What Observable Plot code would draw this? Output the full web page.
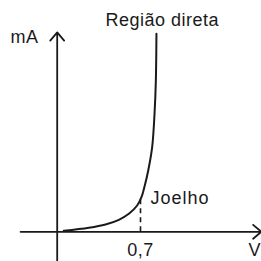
<!DOCTYPE html>
<html>
<head>
<meta charset="utf-8">
<script src="https://cdn.jsdelivr.net/npm/d3@7"></script>
<script src="https://cdn.jsdelivr.net/npm/@observablehq/plot@0.6"></script>
<style>
  html, body { margin: 0; padding: 0; background: #fff; }
  svg { display: block; }
</style>
</head>
<body>
<div id="chart"></div>
<script>
// Diode forward curve: voltage (V) and current (mA)
const voltage = [0.055, 0.266, 0.406, 0.518, 0.602, 0.672, 0.708, 0.736, 0.765, 0.798, 0.818, 0.829, 0.834];
const current = [0.1, 0.4, 0.73, 1.2, 1.8, 2.63, 3.46, 4.63, 6.13, 8.46, 11.83, 15.13, 19.8];

// Knee
const kneeV = 0.7;
const kneeI = 3.4;

// Axes extents (data units)
const xAxisFrom = -0.308, xAxisTo = 1.716;
const yAxisFrom = -3.0, yAxisTo = 19.95;

// Labels
const labelTexts = ["mA", "Região direta", "Joelho", "0,7", "V"];
const labelX = [-0.392, 0.406, 0.784, 0.70, 1.608];
const labelY = [19.5, 21.17, 3.37, -1.83, -1.83];
const labelAnchor = ["start", "start", "start", "middle", "start"];
const labelSpacing = [0.5, 0.5, 1.0, 0.5, 0.5];

const curve = voltage.map((v, i) => ({v, i: current[i]}));
const labels = labelTexts.map((t, k) => ({t, x: labelX[k], y: labelY[k], a: labelAnchor[k]}));

const font = "'Liberation Sans', Arial, Helvetica, sans-serif";
const textOpts = (a) => ({
  x: "x", y: "y", text: "t", textAnchor: a, fontSize: 18, fill: "#1a1a1a",
  fontFamily: font
});

const chart = Plot.plot({
  width: 261,
  height: 261,
  margin: 0,
  x: {domain: [-0.4765, 1.7168], axis: null},
  y: {domain: [-2.97, 23.13], axis: null},
  marks: [
    Plot.arrow([{x1: xAxisFrom, y1: 0, x2: xAxisTo, y2: 0}], {
      x1: "x1", y1: "y1", x2: "x2", y2: "y2", stroke: "#1a1a1a", strokeWidth: 1.8,
      headLength: 9, headAngle: 80, inset: 0
    }),
    Plot.arrow([{x1: 0, y1: yAxisFrom, x2: 0, y2: yAxisTo}], {
      x1: "x1", y1: "y1", x2: "x2", y2: "y2", stroke: "#1a1a1a", strokeWidth: 1.8,
      headLength: 9, headAngle: 80, inset: 0
    }),
    Plot.ruleX([kneeV], {y1: 0, y2: kneeI, stroke: "#1a1a1a", strokeWidth: 1.6, strokeDasharray: "5,4"}),
    Plot.line(curve, {x: "v", y: "i", curve: "catmull-rom", stroke: "#1a1a1a", strokeWidth: 2}),
    ...labels.map(l => Plot.text([l], {...textOpts(l.a)}))
  ]
});
chart.style.background = "#fff";
const texts = chart.querySelectorAll("g[aria-label='text'] text");
texts.forEach((t, k) => t.setAttribute("letter-spacing", String(labelSpacing[k] ?? 0.5)));
document.getElementById("chart").appendChild(chart);
</script>
</body>
</html>
